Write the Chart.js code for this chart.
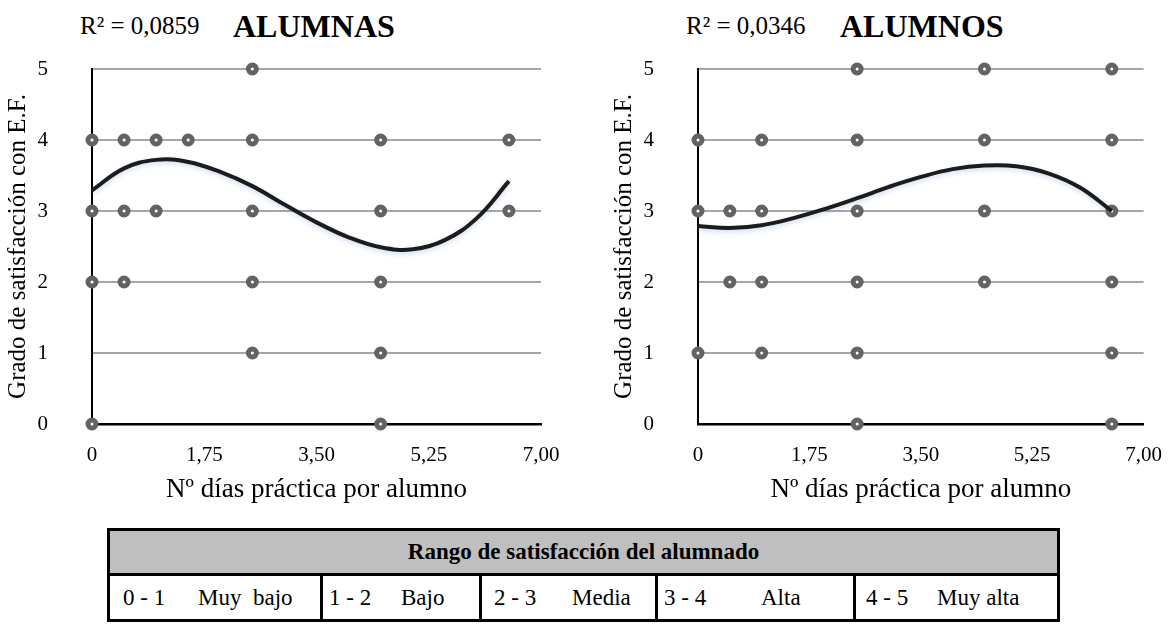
<!DOCTYPE html>
<html>
<head>
<meta charset="utf-8">
<script src="https://cdn.jsdelivr.net/npm/chart.js@4.4.1/dist/chart.umd.min.js"></script>
<style>
  body { margin: 0; background: #fff; width: 1173px; height: 644px; position: relative; overflow: hidden;
         font-family: "Liberation Serif", "Times New Roman", serif; color: #000; }
  canvas { position: absolute; top: 0; }
  .r2 { position: absolute; top: 12px; font-size: 25px; white-space: nowrap; }
  .ttl { position: absolute; top: 8px; font-size: 32px; font-weight: bold; white-space: nowrap; }
  table { position: absolute; left: 107px; top: 528px; border-collapse: collapse; font-size: 23px; }
  th { background: #bfbfbf; font-weight: bold; height: 42px; border: 3px solid #000; padding: 0; }
  td { position: relative; height: 43px; border: 3px solid #000; padding: 0; }
  td span { position: absolute; top: 50%; transform: translateY(-50%); white-space: pre; }
</style>
</head>
<body>

<div class="r2" style="left:80px">R² = 0,0859</div>
<div class="ttl" style="left:233px">ALUMNAS</div>
<div class="r2" style="left:686px">R² = 0,0346</div>
<div class="ttl" style="left:840px">ALUMNOS</div>

<canvas id="chartAlumnas" width="586" height="520" style="left:0"></canvas>
<canvas id="chartAlumnos" width="567" height="520" style="left:606px"></canvas>

<table id="rangeTable"></table>

<script>
// X ticks of both charts
const xTickValues = [0, 1.75, 3.5, 5.25, 7];
const xTickLabels = ['0', '1,75', '3,50', '5,25', '7,00'];

// Alumnas: individual answers (días de práctica, grado de satisfacción)
const alumnasX = [0, 0, 0, 0, 0.5, 0.5, 0.5, 1, 1, 1.5, 2.5, 2.5, 2.5, 2.5, 2.5, 4.5, 4.5, 4.5, 4.5, 4.5, 6.5, 6.5];
const alumnasY = [4, 3, 2, 0, 4, 3, 2, 4, 3, 4, 5, 4, 3, 2, 1, 4, 3, 2, 1, 0, 4, 3];

// Alumnos: individual answers
const alumnosX = [0, 0, 0, 0.5, 0.5, 1, 1, 1, 1, 2.5, 2.5, 2.5, 2.5, 2.5, 2.5, 4.5, 4.5, 4.5, 4.5, 6.5, 6.5, 6.5, 6.5, 6.5, 6.5];
const alumnosY = [4, 3, 1, 3, 2, 4, 3, 2, 1, 5, 4, 3, 2, 1, 0, 5, 4, 3, 2, 5, 4, 3, 2, 1, 0];

// Polynomial trend lines
const trendX = [0, 0.5, 1, 1.5, 2, 2.5, 3, 3.5, 4, 4.5, 5, 5.5, 6, 6.5];
const alumnasTrend = [3.29, 3.60, 3.72, 3.69, 3.55, 3.35, 3.09, 2.84, 2.63, 2.49, 2.46, 2.59, 2.90, 3.42];
const alumnosTrend = [2.79, 2.76, 2.80, 2.90, 3.03, 3.18, 3.34, 3.48, 3.59, 3.64, 3.63, 3.53, 3.33, 3.00];

// Table below the charts
const rangeLabels = ['0 - 1', '1 - 2', '2 - 3', '3 - 4', '4 - 5'];
const rangeNames = ['Muy  bajo', 'Bajo', 'Media', 'Alta', 'Muy alta'];

const serif = '"Liberation Serif", "Times New Roman", serif';

// soft bluish shadow under the trend curve
const curveShadow = {
    id: 'curveShadow',
    beforeDatasetDraw(chart, args) {
        if (args.index !== 0) return;
        const ctx = chart.ctx;
        ctx.save();
        ctx.shadowColor = 'rgba(110,150,210,0.35)';
        ctx.shadowBlur = 5;
        ctx.shadowOffsetY = 2;
    },
    afterDatasetDraw(chart, args) {
        if (args.index === 0) chart.ctx.restore();
    }
};

function makeChart(id, xs, ys, trend, rightPad) {
    const points = xs.map((x, i) => ({ x: x, y: ys[i] }));
    const curve = trendX.map((x, i) => ({ x: x, y: trend[i] }));

    return new Chart(document.getElementById(id), {
        type: 'scatter',
        data: {
            datasets: [
                {
                    type: 'line',
                    data: curve,
                    borderColor: '#1c1c1c',
                    borderWidth: 4,
                    pointRadius: 0,
                    tension: 0.4,
                    fill: false,
                    clip: false,
                    order: 0
                },
                {
                    data: points,
                    pointRadius: 4,
                    borderWidth: 5,
                    borderColor: '#636363',
                    backgroundColor: '#ffffff',
                    pointBorderColor: '#636363',
                    pointBackgroundColor: '#ffffff',
                    clip: false,
                    order: 1
                }
            ]
        },
        options: {
            responsive: false,
            animation: false,
            layout: { padding: { top: 69, right: rightPad, left: 0, bottom: 0 } },
            plugins: { legend: { display: false }, tooltip: { enabled: false } },
            scales: {
                x: {
                    type: 'linear',
                    min: 0,
                    max: 7,
                    afterBuildTicks: s => { s.ticks = xTickValues.map(v => ({ value: v })); },
                    afterFit: s => { s.height = 96; },
                    ticks: {
                        callback: v => xTickLabels[xTickValues.indexOf(v)],
                        font: { family: serif, size: 21 },
                        color: '#000',
                        padding: 11,
                        maxRotation: 0
                    },
                    grid: { display: false },
                    border: { color: '#000', width: 2.5 },
                    title: {
                        display: true,
                        text: 'Nº días práctica por alumno',
                        font: { family: serif, size: 27 },
                        color: '#000',
                        padding: { top: 0, bottom: 14 }
                    }
                },
                y: {
                    min: 0,
                    max: 5,
                    afterFit: s => { s.width = 92; },
                    ticks: {
                        stepSize: 1,
                        font: { family: serif, size: 21 },
                        color: '#000',
                        padding: 44
                    },
                    grid: {
                        color: c => c.tick && c.tick.value === 0 ? 'rgba(0,0,0,0)' : '#a6a6a6',
                        lineWidth: 2,
                        drawTicks: false
                    },
                    border: { color: '#000', width: 2 },
                    title: {
                        display: true,
                        text: 'Grado de satisfacción con E.F.',
                        font: { family: serif, size: 25 },
                        color: '#000',
                        padding: { top: 3, bottom: 0 }
                    }
                }
            }
        },
        plugins: [curveShadow]
    });
}

makeChart('chartAlumnas', alumnasX, alumnasY, alumnasTrend, 45);
makeChart('chartAlumnos', alumnosX, alumnosY, alumnosTrend, 27);

// Build the satisfaction range table
const colWidths = [210, 156, 173, 195, 201];
const labelLeft = [13, 6, 12, 6, 10];
const nameLeft = [88, 78, 90, 103, 81];
const table = document.getElementById('rangeTable');
let html = '<tr><th colspan="5">Rango de satisfacción del alumnado</th></tr><tr>';
rangeLabels.forEach((lab, i) => {
    html += '<td style="width:' + colWidths[i] + 'px"><span style="left:' + labelLeft[i] + 'px">' + lab +
            '</span><span style="left:' + nameLeft[i] + 'px">' + rangeNames[i] + '</span></td>';
});
html += '</tr>';
table.innerHTML = html;
</script>
</body>
</html>
